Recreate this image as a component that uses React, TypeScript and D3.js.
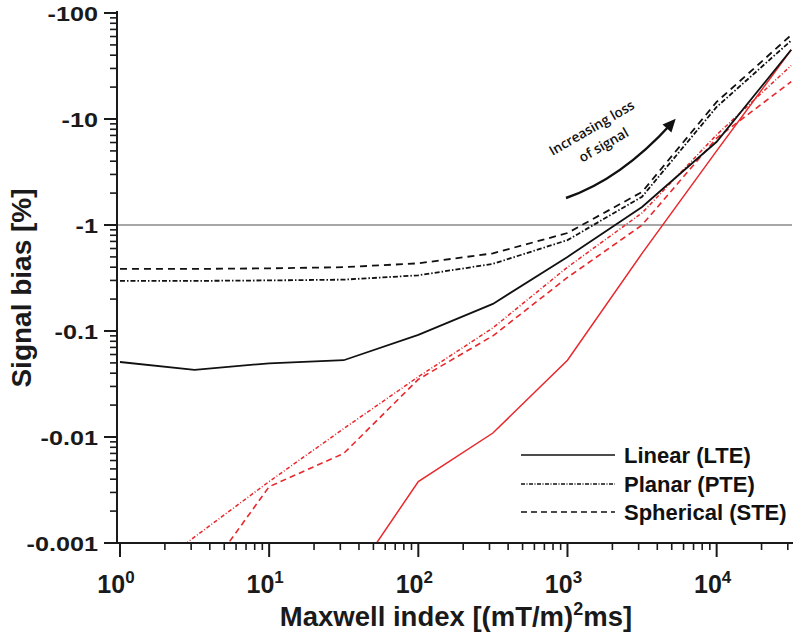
import React from "react";
import * as d3 from "d3";

// Maxwell index sample points [(mT/m)^2 ms]
const maxwellIndex = [1, 3.162, 10, 31.62, 100, 316.2, 1000, 3162, 10000, 31623];

// Signal bias magnitudes [%] (plotted as negative values on a reversed log axis)
const lteBlack = [0.051, 0.043, 0.0496, 0.053, 0.092, 0.18, 0.5, 1.48, 6.1, 45];
const pteBlack = [0.297, 0.297, 0.3, 0.305, 0.335, 0.43, 0.72, 1.85, 13, 55];
const steBlack = [0.385, 0.385, 0.39, 0.4, 0.435, 0.54, 0.84, 2.05, 14.5, 62];
const lteRed = [null, null, null, 0.00035, 0.0038, 0.0109, 0.053, 0.54, 5.0, 45];
const pteRed = [0.00034, 0.00114, 0.0038, 0.012, 0.037, 0.107, 0.4, 1.3, 7.1, 32];
const steRed = [null, 0.00036, 0.0034, 0.007, 0.035, 0.09, 0.32, 1.0, 6.6, 22.5];

const yTickValues = [0.001, 0.01, 0.1, 1, 10, 100];
const yTickLabels = ["-0.001", "-0.01", "-0.1", "-1", "-10", "-100"];
const xTickValues = [1, 10, 100, 1000, 10000];
const xTickExponents = ["0", "1", "2", "3", "4"];
const referenceLevel = 1;

const legendLabels = ["Linear (LTE)", "Planar (PTE)", "Spherical (STE)"];
const annotationLines = ["Increasing loss", "of signal"];

const RED = "#e8282c";
const BLACK = "#111";

export default function App() {
  const W = 800;
  const H = 643;
  const x = d3.scaleLog().domain([0.955, 32000]).range([117, 792]);
  const y = d3.scaleLog().domain([0.001, 100]).range([543, 13]);

  const line = d3
    .line<number | null>()
    .defined((d) => d != null)
    .x((_, i) => x(maxwellIndex[i]))
    .y((d) => y(d as number));

  const series = [
    { data: lteRed, color: RED, dash: "none", w: 1.5 },
    { data: pteRed, color: RED, dash: "4 2 1 2", w: 1.5 },
    { data: steRed, color: RED, dash: "6 4", w: 1.6 },
    { data: lteBlack, color: BLACK, dash: "none", w: 1.8 },
    { data: pteBlack, color: BLACK, dash: "5 2 1.5 2", w: 1.8 },
    { data: steBlack, color: BLACK, dash: "7 5", w: 1.8 },
  ];

  // minor ticks
  const yMinor: number[] = [];
  for (let e = -3; e < 2; e++) for (let k = 2; k <= 9; k++) yMinor.push(k * Math.pow(10, e));
  const xMinor: number[] = [];
  for (let e = 0; e <= 4; e++)
    for (let k = 2; k <= 9; k++) {
      const v = k * Math.pow(10, e);
      if (v <= 31000) xMinor.push(v);
    }

  const legendRows = [455, 484, 512];
  const legendDash = ["none", "4 1.5 1 1.5", "6 4"];

  // arrow annotation geometry
  const a0 = [566, 198];
  const ac = [621, 179];
  const a1 = [671, 124];
  const ang = Math.atan2(a1[1] - ac[1], a1[0] - ac[0]);
  const tip = [a1[0] + 7 * Math.cos(ang), a1[1] + 7 * Math.sin(ang)];
  const back = [a1[0] - 6 * Math.cos(ang), a1[1] - 6 * Math.sin(ang)];
  const px = -Math.sin(ang), py = Math.cos(ang);
  const head = `${tip[0]},${tip[1]} ${back[0] + 6 * px},${back[1] + 6 * py} ${back[0] - 6 * px},${back[1] - 6 * py}`;

  return (
    <svg
      width={W}
      height={H}
      style={{ position: "absolute", left: 0, top: 0, background: "#fff" }}
      fontFamily="'Liberation Sans', Arial, sans-serif"
    >
      <defs>
        <clipPath id="plot">
          <rect x={117} y={0} width={680} height={543} />
        </clipPath>
      </defs>
      <rect x={0} y={0} width={W} height={H} fill="#fff" />

      {/* reference line at -1 */}
      <line x1={117} x2={792} y1={y(referenceLevel)} y2={y(referenceLevel)} stroke="#8a8a8a" strokeWidth={1.6} />

      {/* series */}
      <g clipPath="url(#plot)" fill="none">
        {series.map((s, i) => (
          <path
            key={i}
            d={line(s.data) || ""}
            stroke={s.color}
            strokeWidth={s.w}
            strokeDasharray={s.dash === "none" ? undefined : s.dash}
          />
        ))}
      </g>

      {/* axes */}
      <g stroke="#1a1a1a" strokeWidth={2}>
        <line x1={117} x2={117} y1={11} y2={544} />
        <line x1={116} x2={793} y1={543} y2={543} />
        {yTickValues.map((v) => (
          <line key={"ym" + v} x1={104} x2={117} y1={y(v)} y2={y(v)} />
        ))}
        {yMinor.map((v) => (
          <line key={"yn" + v} x1={110} x2={117} y1={y(v)} y2={y(v)} strokeWidth={1.6} />
        ))}
        {xTickValues.map((v) => (
          <line key={"xm" + v} x1={x(v)} x2={x(v)} y1={543} y2={557} />
        ))}
        {xMinor.map((v) => (
          <line key={"xn" + v} x1={x(v)} x2={x(v)} y1={543} y2={550} strokeWidth={1.6} />
        ))}
      </g>

      {/* y tick labels */}
      <g fontWeight="bold" fontSize={21} fill="#1a1a1a">
        {yTickValues.map((v, i) => (
          <text
            key={"yl" + v}
            transform={`translate(98,${y(v) + 7.5}) scale(1.2,1)`}
            textAnchor="end"
          >
            {yTickLabels[i]}
          </text>
        ))}
      </g>

      {/* x tick labels */}
      <g fontWeight="bold" fontSize={25} fill="#1a1a1a">
        {xTickValues.map((v, i) => (
          <text key={"xl" + v} x={x(v) - 4} y={593} textAnchor="middle">
            10
            <tspan dy={-10} fontSize={17}>
              {xTickExponents[i]}
            </tspan>
          </text>
        ))}
      </g>

      {/* axis titles */}
      <text x={456} y={626} textAnchor="middle" fontWeight="bold" fontSize={27.5} fill="#1a1a1a">
        Maxwell index [(mT/m)
        <tspan dy={-11} fontSize={18}>2</tspan>
        <tspan dy={11}>ms]</tspan>
      </text>
      <text
        transform="translate(31,288) rotate(-90)"
        textAnchor="middle"
        fontWeight="bold"
        fontSize={28}
        fill="#1a1a1a"
      >
        Signal bias [%]
      </text>

      {/* legend */}
      <g>
        {legendLabels.map((lab, i) => (
          <g key={lab}>
            <line
              x1={521}
              x2={615}
              y1={legendRows[i]}
              y2={legendRows[i]}
              stroke={BLACK}
              strokeWidth={1.6}
              strokeDasharray={legendDash[i] === "none" ? undefined : legendDash[i]}
            />
            <text x={624} y={legendRows[i] + 8} fontWeight="bold" fontSize={22} fill="#111">
              {lab}
            </text>
          </g>
        ))}
      </g>

      {/* annotation */}
      <path d={`M${a0[0]},${a0[1]} Q${ac[0]},${ac[1]} ${a1[0]},${a1[1]}`} fill="none" stroke="#111" strokeWidth={2.4} />
      <polygon points={head} fill="#111" />
      <g fontFamily="'Open Sans', Lato, sans-serif" fontSize={13.5} fontWeight={600} fill="#111">
        <text transform="translate(594,132) rotate(-30)" textAnchor="middle">
          {annotationLines[0]}
        </text>
        <text transform="translate(606,149) rotate(-30)" textAnchor="middle">
          {annotationLines[1]}
        </text>
      </g>
    </svg>
  );
}
